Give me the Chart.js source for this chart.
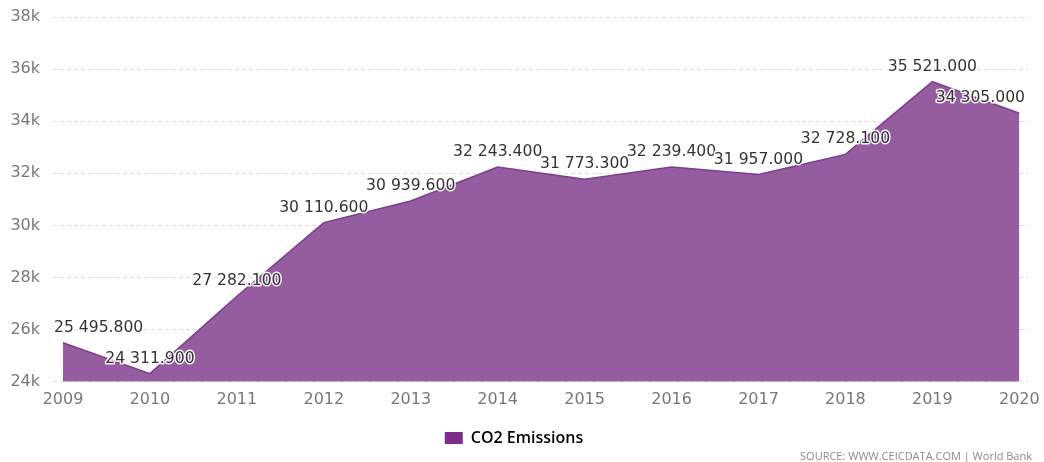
<!DOCTYPE html>
<html>
<head>
<meta charset="utf-8">
<script src="https://cdn.jsdelivr.net/npm/chart.js@4/dist/chart.umd.min.js"></script>
<style>
html,body{margin:0;padding:0;background:#fff;}
#wrap{position:relative;width:1044px;height:462px;}
#src{position:absolute;right:12px;top:448px;font:11px "Open Sans",sans-serif;color:#8a8a8a;white-space:nowrap;}
</style>
</head>
<body>
<div id="wrap">
<canvas id="c" width="1044" height="462"></canvas>
<div id="src">SOURCE: WWW.CEICDATA.COM | World Bank</div>
</div>
<script>
const years = [2009, 2010, 2011, 2012, 2013, 2014, 2015, 2016, 2017, 2018, 2019, 2020];
const co2Emissions = [25495.8, 24311.9, 27282.1, 30110.6, 30939.6, 32243.4, 31773.3, 32239.4, 31957.0, 32728.1, 35521.0, 34305.0];
const yTicks = [24000, 26000, 28000, 30000, 32000, 34000, 36000, 38000];
const seriesName = 'CO2 Emissions';

function fmt(v){
  const s = v.toFixed(3);
  const [i, d] = s.split('.');
  return i.replace(/\B(?=(\d{3})+(?!\d))/g, ' ') + '.' + d;
}

const labelPlugin = {
  id: 'pointLabels',
  afterDatasetsDraw(chart){
    const ctx = chart.ctx;
    const meta = chart.getDatasetMeta(0);
    const area = chart.chartArea;
    ctx.save();
    ctx.font = '15.6px "DejaVu Sans", sans-serif';
    ctx.textAlign = 'center';
    ctx.textBaseline = 'middle';
    ctx.lineJoin = 'round';
    meta.data.forEach((pt, i) => {
      const txt = fmt(chart.data.datasets[0].data[i].y);
      const w = ctx.measureText(txt).width;
      let x = pt.x;
      if (x - w / 2 < area.left + 1) x = area.left + 1 + w / 2;
      if (x + w / 2 > area.right - 3) x = area.right - 3 - w / 2;
      const y = pt.y - 15;
      ctx.lineWidth = 3;
      ctx.strokeStyle = 'rgba(255,255,255,0.9)';
      ctx.strokeText(txt, x, y);
      ctx.fillStyle = '#333';
      ctx.fillText(txt, x, y);
    });
    ctx.restore();
  }
};

new Chart(document.getElementById('c'), {
  type: 'line',
  data: {
    datasets: [{
      label: seriesName,
      data: years.map((y, i) => ({x: y, y: co2Emissions[i]})),
      borderColor: '#7a3f8a',
      borderWidth: 1.5,
      backgroundColor: '#955ca0',
      fill: 'start',
      pointRadius: 0,
      tension: 0
    }]
  },
  options: {
    responsive: false,
    animation: false,
    layout: {padding: {top: 17, right: 16, bottom: 6, left: 0}},
    scales: {
      x: {
        type: 'linear',
        min: 2008.885,
        max: 2020.1,
        afterBuildTicks: s => { s.ticks = years.map(v => ({value: v})); },
        afterFit: s => { s.paddingLeft = 0; s.paddingRight = 0; },
        grid: {display: false},
        border: {display: false},
        ticks: {
          callback: v => String(v),
          color: '#777',
          font: {family: '"DejaVu Sans", sans-serif', size: 16},
          padding: 0,
          maxRotation: 0,
          autoSkip: false
        }
      },
      y: {
        min: 24000,
        max: 38000,
        afterBuildTicks: s => { s.ticks = yTicks.map(v => ({value: v})); },
        afterFit: s => { s.paddingTop = 0; s.paddingBottom = 0; s.width = 53; },
        grid: {color: '#dddddd', drawTicks: false, lineWidth: 1},
        border: {display: false, dash: [4, 3]},
        ticks: {
          callback: v => (v / 1000) + 'k',
          color: '#777',
          font: {family: '"DejaVu Sans", sans-serif', size: 16},
          padding: 13
        }
      }
    },
    plugins: {
      legend: {
        position: 'bottom',
        labels: {
          boxWidth: 18,
          boxHeight: 12,
          color: '#666',
          font: {family: '"Open Sans", sans-serif', size: 16, weight: '600'},
          padding: 21,
          generateLabels: chart => [{
            text: seriesName,
            fillStyle: '#7c2d8c',
            strokeStyle: '#7c2d8c',
            lineWidth: 0,
            datasetIndex: 0
          }]
        }
      },
      tooltip: {enabled: false}
    }
  },
  plugins: [labelPlugin]
});
</script>
</body>
</html>
